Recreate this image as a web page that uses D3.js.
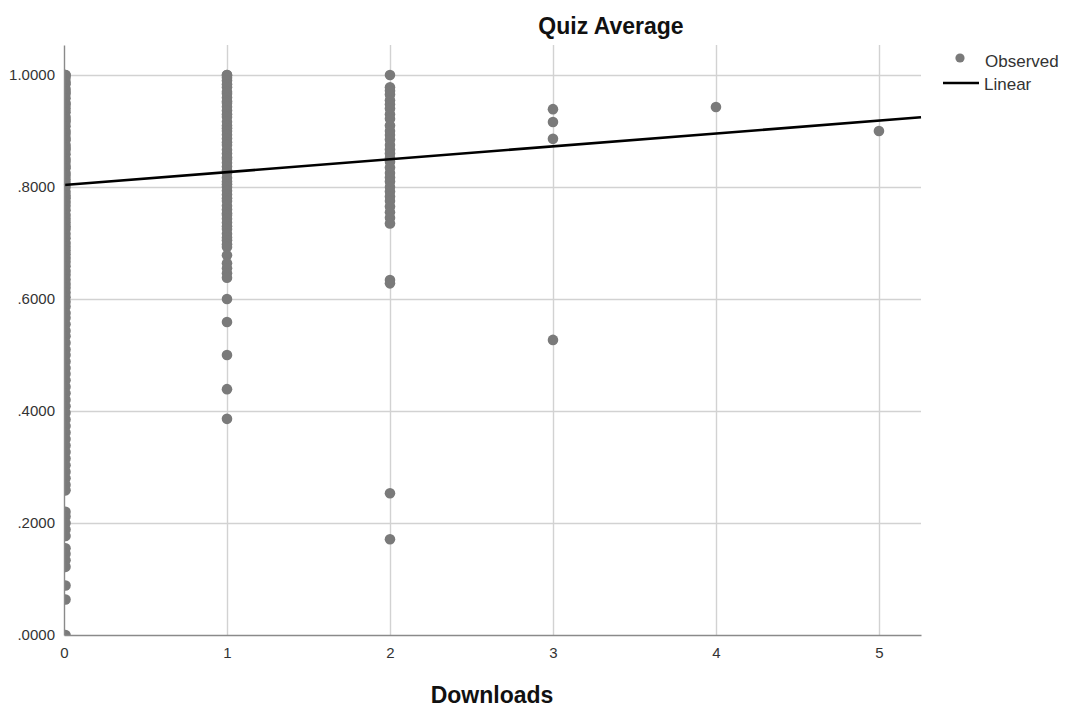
<!DOCTYPE html>
<html>
<head>
<meta charset="utf-8">
<script src="https://cdn.jsdelivr.net/npm/d3@7"></script>
<style>
  html, body { margin: 0; padding: 0; background: #fff; }
  svg { display: block; font-family: "Liberation Sans", Arial, sans-serif; }
</style>
</head>
<body>
<svg id="chart" width="1069" height="720"></svg>
<script>
// Quiz average by number of downloads, one list per download count
const downloadCounts = [0, 1, 2, 3, 4, 5];

const quizAt0 = [1.0000, 1.0000, 0.9950, 0.9875, 0.9833, 0.9750, 0.9700, 0.9667, 0.9583, 0.9500,
  0.9467, 0.9400, 0.9333, 0.9250, 0.9200, 0.9167, 0.9083, 0.9000, 0.8950, 0.8875, 0.8833, 0.8750,
  0.8700, 0.8667, 0.8583, 0.8500, 0.8450, 0.8375, 0.8333, 0.8250, 0.8200, 0.8133, 0.8067, 0.8000,
  0.7917, 0.7850, 0.7800, 0.7733, 0.7667, 0.7583, 0.7500, 0.7433, 0.7367, 0.7300, 0.7250, 0.7167,
  0.7083, 0.7000, 0.6933, 0.6867, 0.6800, 0.6733, 0.6667, 0.6583, 0.6500, 0.6433, 0.6350, 0.6267,
  0.6200, 0.6117, 0.6033, 0.5950, 0.5867, 0.5750, 0.5667, 0.5550, 0.5433, 0.5333, 0.5217, 0.5100,
  0.5000, 0.4883, 0.4767, 0.4667, 0.4550, 0.4433, 0.4317, 0.4200, 0.4083, 0.3967, 0.3850, 0.3733,
  0.3617, 0.3500, 0.3383, 0.3267, 0.3150, 0.3033, 0.2917, 0.2800, 0.2683, 0.2583, 0.2200, 0.2117,
  0.2000, 0.1883, 0.1767, 0.1550, 0.1450, 0.1333, 0.1217, 0.0883, 0.0633, 0.0000];

const quizAt1 = [1.0000, 1.0000, 0.9950, 0.9900, 0.9833, 0.9780, 0.9700, 0.9667, 0.9600, 0.9533,
  0.9500, 0.9433, 0.9367, 0.9300, 0.9250, 0.9167, 0.9100, 0.9050, 0.9000, 0.8933, 0.8867, 0.8800,
  0.8750, 0.8667, 0.8600, 0.8533, 0.8500, 0.8433, 0.8367, 0.8300, 0.8250, 0.8167, 0.8100, 0.8050,
  0.8000, 0.7933, 0.7867, 0.7800, 0.7750, 0.7667, 0.7600, 0.7533, 0.7500, 0.7433, 0.7367, 0.7300,
  0.7250, 0.7167, 0.7100, 0.7050, 0.6980, 0.6930, 0.6780, 0.6640, 0.6550, 0.6460, 0.6380, 0.6000,
  0.5590, 0.5000, 0.4390, 0.3860];

const quizAt2 = [1.0000, 0.9780, 0.9720, 0.9650, 0.9550, 0.9480, 0.9400, 0.9300, 0.9220, 0.9100,
  0.9000, 0.8930, 0.8850, 0.8750, 0.8670, 0.8600, 0.8520, 0.8450, 0.8350, 0.8250, 0.8170, 0.8100,
  0.8000, 0.7920, 0.7830, 0.7750, 0.7650, 0.7550, 0.7450, 0.7350, 0.6340, 0.6280, 0.2530, 0.1710];

const quizAt3 = [0.9390, 0.9160, 0.8860, 0.5270];
const quizAt4 = [0.9430];
const quizAt5 = [0.9000];

const quizByCount = [quizAt0, quizAt1, quizAt2, quizAt3, quizAt4, quizAt5];

// Linear fit: quiz = intercept + slope * downloads
const fitIntercept = 0.8036;
const fitSlope = 0.0230;

const yTicks = [0, 0.2, 0.4, 0.6, 0.8, 1.0];

const observed = quizByCount.flatMap((vals, i) =>
  vals.map(v => ({ x: downloadCounts[i], y: v })));

const svg = d3.select("#chart");
const plotLeft = 64, plotRight = 921, plotTop = 45, plotBottom = 635;

const x = d3.scaleLinear().domain([0, 5.258]).range([plotLeft, plotRight]);
const y = d3.scaleLinear().domain([0, 1.0536]).range([plotBottom, plotTop]);

svg.append("defs").append("clipPath").attr("id", "plot-clip")
  .append("rect").attr("x", plotLeft).attr("y", plotTop - 6)
  .attr("width", plotRight - plotLeft).attr("height", plotBottom - plotTop + 6);

// grid
const grid = svg.append("g").attr("stroke", "#d2d2d2").attr("stroke-width", 1.4);
grid.selectAll("line.h").data(yTicks.filter(d => d > 0)).join("line")
  .attr("class", "h")
  .attr("x1", plotLeft).attr("x2", plotRight)
  .attr("y1", d => Math.round(y(d)) + 0.5).attr("y2", d => Math.round(y(d)) + 0.5);
grid.selectAll("line.v").data(downloadCounts.filter(d => d > 0)).join("line")
  .attr("class", "v")
  .attr("x1", d => Math.round(x(d)) + 0.5).attr("x2", d => Math.round(x(d)) + 0.5)
  .attr("y1", plotTop).attr("y2", plotBottom);

// observed points
svg.append("g").attr("clip-path", "url(#plot-clip)")
  .selectAll("circle").data(observed).join("circle")
  .attr("cx", d => x(d.x) + (d.x === 0 ? 1.5 : 0))
  .attr("cy", d => y(d.y))
  .attr("r", 5.3)
  .attr("fill", "#7a7a7a");

// fitted line
const fitLine = d3.line().x(d => x(d)).y(d => y(fitIntercept + fitSlope * d));
svg.append("path")
  .datum(x.domain())
  .attr("d", fitLine)
  .attr("fill", "none")
  .attr("stroke", "#000")
  .attr("stroke-width", 2.6);

// axes
const yAxis = d3.axisLeft(y).tickValues(yTicks).tickSize(0).tickPadding(9)
  .tickFormat(d => d3.format(".4f")(d).replace(/^0\./, "."));
const gy = svg.append("g").attr("transform", `translate(${plotLeft},0)`).call(yAxis);
gy.select(".domain").attr("stroke", "#8a8a8a").attr("stroke-width", 1.4);
gy.selectAll("text").attr("font-size", 15).attr("fill", "#333")
  .attr("font-family", "Liberation Sans, Arial, sans-serif");

const xAxis = d3.axisBottom(x).tickValues(downloadCounts).tickSize(0).tickPadding(12)
  .tickFormat(d3.format("d"));
const gx = svg.append("g").attr("transform", `translate(0,${plotBottom})`).call(xAxis);
gx.select(".domain").attr("stroke", "#8a8a8a").attr("stroke-width", 1.4);
gx.selectAll("text").attr("font-size", 15).attr("fill", "#333")
  .attr("font-family", "Liberation Sans, Arial, sans-serif");

// titles
svg.append("text").attr("x", 611).attr("y", 34).attr("text-anchor", "middle")
  .attr("font-size", 23).attr("font-weight", "bold").attr("fill", "#111")
  .text("Quiz Average");
svg.append("text").attr("x", 492).attr("y", 703).attr("text-anchor", "middle")
  .attr("font-size", 23).attr("font-weight", "bold").attr("fill", "#111")
  .text("Downloads");

// legend
const legend = svg.append("g");
legend.append("circle").attr("cx", 960).attr("cy", 58).attr("r", 4.6).attr("fill", "#7a7a7a");
legend.append("text").attr("x", 985).attr("y", 67).attr("font-size", 17).attr("fill", "#333").text("Observed");
legend.append("line").attr("x1", 943).attr("x2", 979).attr("y1", 83).attr("y2", 83)
  .attr("stroke", "#000").attr("stroke-width", 2.6);
legend.append("text").attr("x", 984).attr("y", 90).attr("font-size", 17).attr("fill", "#333").text("Linear");
</script>
</body>
</html>
